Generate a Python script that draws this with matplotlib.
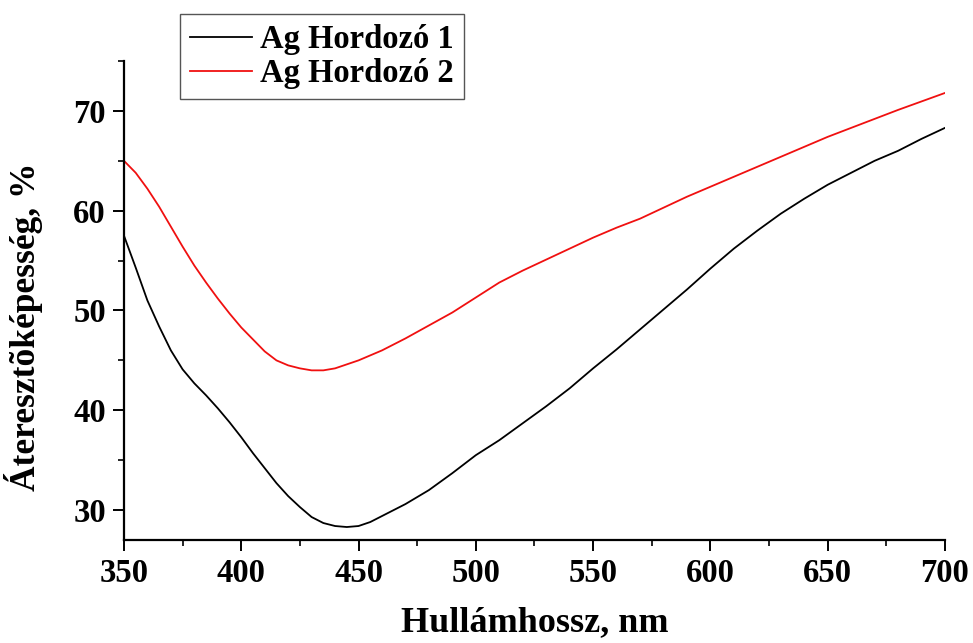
import numpy as np
import matplotlib
matplotlib.use("Agg")
import matplotlib.pyplot as plt
from matplotlib.ticker import MultipleLocator

plt.rcParams['font.family'] = ['Liberation Serif', 'DejaVu Serif']
plt.rcParams['font.weight'] = 'bold'

# wavelength (nm)
wavelength = [350, 355, 360, 365, 370, 375, 380, 385, 390, 395, 400, 405, 410, 415,
              420, 425, 430, 435, 440, 445, 450, 455, 460, 465, 470, 480, 490, 500,
              510, 520, 530, 540, 550, 560, 570, 580, 590, 600, 610, 620, 630, 640,
              650, 660, 670, 680, 690, 700]

# transmittance (%) - Ag substrate 1
ag1 = [57.5, 54.3, 51.0, 48.4, 46.0, 44.1, 42.7, 41.5, 40.2, 38.8, 37.3, 35.7, 34.2, 32.7,
       31.4, 30.3, 29.3, 28.7, 28.4, 28.3, 28.4, 28.8, 29.4, 30.0, 30.6, 32.0, 33.7, 35.5,
       37.0, 38.7, 40.4, 42.2, 44.2, 46.1, 48.1, 50.1, 52.1, 54.2, 56.2, 58.0, 59.7, 61.2,
       62.6, 63.8, 65.0, 66.0, 67.2, 68.3]

# transmittance (%) - Ag substrate 2
ag2 = [65.0, 63.8, 62.2, 60.4, 58.4, 56.4, 54.5, 52.8, 51.2, 49.7, 48.3, 47.1, 45.9, 45.0,
       44.5, 44.2, 44.0, 44.0, 44.2, 44.6, 45.0, 45.5, 46.0, 46.6, 47.2, 48.5, 49.8, 51.3,
       52.8, 54.0, 55.1, 56.2, 57.3, 58.3, 59.2, 60.3, 61.4, 62.4, 63.4, 64.4, 65.4, 66.4,
       67.4, 68.3, 69.2, 70.1, 70.95, 71.8]

fig = plt.figure(figsize=(9.73, 6.43), dpi=100)
ax = fig.add_axes([0.1274, 0.1602, 0.8438, 0.7449])

ax.plot(wavelength, ag1, color='black', lw=1.3, label='Ag Hordozó 1')
ax.plot(wavelength, ag2, color='#f01010', lw=1.3, label='Ag Hordozó 2')

ax.set_xlim(350, 700)
ax.set_ylim(27, 75)
ax.xaxis.set_major_locator(MultipleLocator(50))
ax.xaxis.set_minor_locator(MultipleLocator(25))
ax.yaxis.set_major_locator(MultipleLocator(10))
ax.yaxis.set_minor_locator(MultipleLocator(5))

for s in ['top', 'right']:
    ax.spines[s].set_visible(False)
for s in ['left', 'bottom']:
    ax.spines[s].set_linewidth(1.6)

ax.tick_params(which='major', direction='out', length=8, width=1.4, labelsize=23.5, pad=5)
ax.tick_params(which='minor', direction='out', length=4.5, width=1.2)

ax.set_xlabel('Hullámhossz, nm', fontsize=26, fontweight='bold', labelpad=12)
ax.set_ylabel('Áteresztõképesség, %', fontsize=25.5, fontweight='bold')
ax.yaxis.set_label_coords(-0.0987, 0.445)

leg = fig.legend(loc='upper left', bbox_to_anchor=(0.185, 0.978), fontsize=23.5,
                 frameon=True, fancybox=False, edgecolor='#555555', framealpha=1,
                 handlelength=1.9, handletextpad=0.25, labelspacing=0.1,
                 borderpad=0.3, borderaxespad=0)
leg.get_frame().set_linewidth(1.0)

fig.savefig('out.png', dpi=100)
